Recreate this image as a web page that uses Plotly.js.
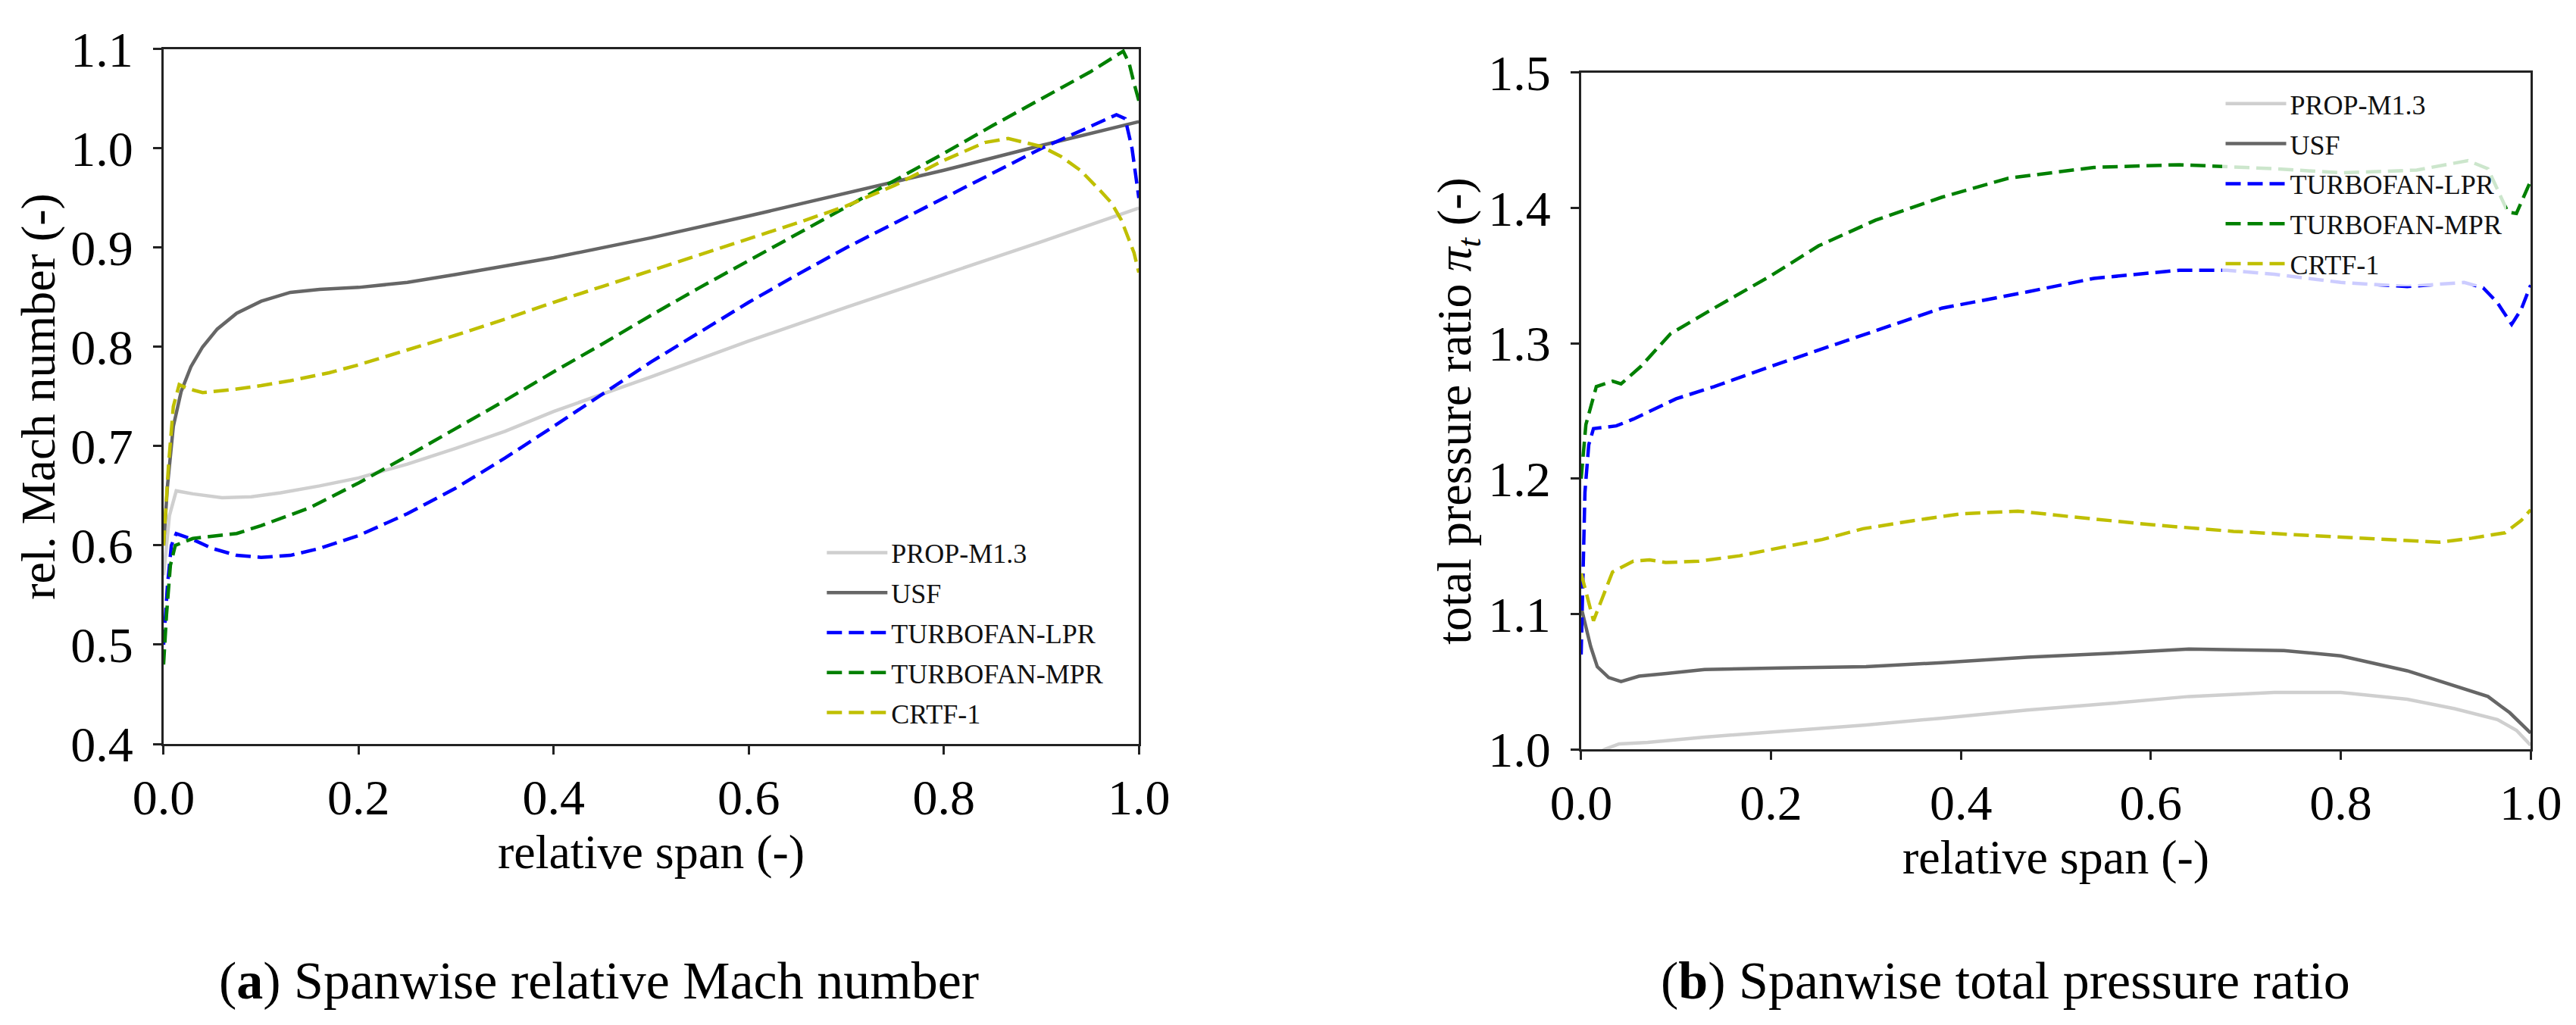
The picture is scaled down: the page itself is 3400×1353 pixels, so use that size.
<!DOCTYPE html>
<html>
<head>
<meta charset="utf-8">
<script src="https://cdn.plot.ly/plotly-3.0.1.min.js"></script>
<style>
    body {margin: 0; background: white;}
    #div_graphe {width: 3400px; height: 1353px;}
</style>
</head>
<body>
<div id="div_graphe"></div>
<script>
let noms = ["PROP-M1.3", "USF", "TURBOFAN-LPR", "TURBOFAN-MPR", "CRTF-1"]

// (a) nombre de Mach relatif
let prop_a_x = [0, 0.006, 0.013, 0.03, 0.06, 0.09, 0.12, 0.16, 0.2, 0.25, 0.3, 0.35, 0.4, 0.5, 0.6, 0.7, 0.8, 0.9, 1.0]
let prop_a_y = [0.57, 0.63, 0.655, 0.652, 0.648, 0.649, 0.653, 0.66, 0.668, 0.682, 0.698, 0.715, 0.735, 0.77, 0.806, 0.84, 0.873, 0.906, 0.94]
let usf_a_x = [0, 0.004, 0.01, 0.018, 0.028, 0.04, 0.055, 0.075, 0.1, 0.13, 0.16, 0.2, 0.25, 0.3, 0.4, 0.5, 0.6, 0.7, 0.8, 0.9, 1.0]
let usf_a_y = [0.6, 0.66, 0.72, 0.755, 0.78, 0.8, 0.818, 0.834, 0.846, 0.855, 0.858, 0.86, 0.865, 0.873, 0.89, 0.91, 0.932, 0.955, 0.978, 1.003, 1.027]
let lpr_a_x = [0, 0.004, 0.008, 0.013, 0.03, 0.05, 0.075, 0.1, 0.13, 0.16, 0.2, 0.25, 0.3, 0.35, 0.4, 0.45, 0.5, 0.55, 0.6, 0.65, 0.7, 0.75, 0.8, 0.85, 0.9, 0.95, 0.977, 0.986, 0.993, 1.0]
let lpr_a_y = [0.5, 0.56, 0.6, 0.612, 0.606, 0.597, 0.59, 0.588, 0.59, 0.597, 0.61, 0.632, 0.658, 0.688, 0.72, 0.752, 0.785, 0.815, 0.845, 0.873, 0.9, 0.925, 0.95, 0.975, 1.0, 1.022, 1.034, 1.03, 1.0, 0.95]
let mpr_a_x = [0, 0.003, 0.007, 0.012, 0.03, 0.05, 0.075, 0.1, 0.15, 0.2, 0.25, 0.3, 0.35, 0.4, 0.45, 0.5, 0.55, 0.6, 0.65, 0.7, 0.75, 0.8, 0.85, 0.9, 0.95, 0.984, 0.99, 0.995, 1.0]
let mpr_a_y = [0.48, 0.53, 0.58, 0.6, 0.607, 0.609, 0.612, 0.62, 0.638, 0.663, 0.69, 0.718, 0.746, 0.775, 0.803, 0.832, 0.86, 0.887, 0.914, 0.941, 0.968, 0.995, 1.023, 1.05, 1.077, 1.098, 1.086, 1.066, 1.048]
let crtf_a_x = [0, 0.005, 0.01, 0.016, 0.025, 0.04, 0.07, 0.1, 0.13, 0.17, 0.2, 0.25, 0.3, 0.35, 0.4, 0.45, 0.5, 0.55, 0.6, 0.65, 0.7, 0.75, 0.8, 0.842, 0.866, 0.9, 0.92, 0.94, 0.959, 0.972, 0.982, 0.995, 1.0]
let crtf_a_y = [0.6, 0.68, 0.74, 0.762, 0.758, 0.754, 0.757, 0.761, 0.766, 0.774, 0.782, 0.797, 0.812, 0.828, 0.845, 0.861, 0.877, 0.893, 0.909, 0.925, 0.942, 0.963, 0.988, 1.006, 1.01, 1.002, 0.992, 0.978, 0.959, 0.945, 0.928, 0.895, 0.875]

// (b) rapport de pression totale
let prop_b_x = [0, 0.025, 0.04, 0.07, 0.13, 0.21, 0.3, 0.38, 0.47, 0.56, 0.64, 0.73, 0.8, 0.87, 0.92, 0.965, 0.985, 1.0]
let prop_b_y = [0.99, 1.0, 1.004, 1.005, 1.009, 1.013, 1.018, 1.023, 1.029, 1.034, 1.039, 1.042, 1.042, 1.037, 1.03, 1.022, 1.014, 1.003]
let usf_b_x = [0, 0.005, 0.01, 0.017, 0.029, 0.042, 0.061, 0.09, 0.13, 0.21, 0.3, 0.38, 0.47, 0.56, 0.64, 0.74, 0.8, 0.87, 0.91, 0.955, 0.978, 1.0]
let usf_b_y = [1.105, 1.09, 1.076, 1.061, 1.053, 1.05, 1.054, 1.056, 1.059, 1.06, 1.061, 1.064, 1.068, 1.071, 1.074, 1.073, 1.069, 1.058, 1.049, 1.039, 1.027, 1.012]
let lpr_b_x = [0, 0.004, 0.008, 0.013, 0.037, 0.055, 0.1, 0.14, 0.2, 0.3, 0.38, 0.47, 0.54, 0.63, 0.68, 0.73, 0.8, 0.87, 0.93, 0.95, 0.965, 0.98, 0.99, 1.0]
let lpr_b_y = [1.07, 1.19, 1.225, 1.237, 1.239, 1.244, 1.259, 1.268, 1.283, 1.307, 1.326, 1.338, 1.348, 1.354, 1.354, 1.351, 1.345, 1.342, 1.345, 1.341, 1.33, 1.314, 1.325, 1.343]
let mpr_b_x = [0, 0.005, 0.016, 0.033, 0.042, 0.063, 0.094, 0.14, 0.2, 0.25, 0.31, 0.38, 0.45, 0.54, 0.63, 0.67, 0.73, 0.8, 0.88, 0.934, 0.955, 0.976, 0.985, 1.0]
let mpr_b_y = [1.2, 1.24, 1.268, 1.272, 1.27, 1.283, 1.307, 1.326, 1.35, 1.372, 1.391, 1.408, 1.422, 1.43, 1.432, 1.431, 1.429, 1.426, 1.428, 1.435, 1.429, 1.397, 1.396, 1.42]
let crtf_b_x = [0, 0.013, 0.033, 0.055, 0.072, 0.089, 0.124, 0.167, 0.21, 0.254, 0.297, 0.35, 0.4, 0.46, 0.514, 0.6, 0.687, 0.774, 0.834, 0.904, 0.938, 0.973, 0.99, 1.0]
let crtf_b_y = [1.13, 1.095, 1.131, 1.139, 1.14, 1.138, 1.139, 1.143, 1.149, 1.155, 1.163, 1.169, 1.174, 1.176, 1.172, 1.166, 1.161, 1.158, 1.156, 1.153, 1.156, 1.16, 1.169, 1.177]

let ticks_x = [0, 0.2, 0.4, 0.6, 0.8, 1.0]
let ticks_a = [0.4, 0.5, 0.6, 0.7, 0.8, 0.9, 1.0, 1.1]
let ticks_b = [1.0, 1.1, 1.2, 1.3, 1.4, 1.5]

let couleurs = ["#cfcfcf", "#666666", "#0000ff", "#008000", "#bfbf00"]
let tirets = ["solid", "solid", "20px,9px", "20px,9px", "20px,9px"]

let police = "Liberation Serif, Times New Roman, serif"

function courbe(x, y, i, axe, legende){
    return {
        x: x, y: y, mode: "lines", type: "scatter", name: noms[i],
        xaxis: "x" + axe, yaxis: "y" + axe, legend: legende,
        legendgroup: legende + i,
        line: {width: 4.5, color: couleurs[i], dash: tirets[i]}
    }
}

let data = [
    courbe(prop_a_x, prop_a_y, 0, "", "legend"),
    courbe(usf_a_x, usf_a_y, 1, "", "legend"),
    courbe(lpr_a_x, lpr_a_y, 2, "", "legend"),
    courbe(mpr_a_x, mpr_a_y, 3, "", "legend"),
    courbe(crtf_a_x, crtf_a_y, 4, "", "legend"),
    courbe(prop_b_x, prop_b_y, 0, "2", "legend2"),
    courbe(usf_b_x, usf_b_y, 1, "2", "legend2"),
    courbe(lpr_b_x, lpr_b_y, 2, "2", "legend2"),
    courbe(mpr_b_x, mpr_b_y, 3, "2", "legend2"),
    courbe(crtf_b_x, crtf_b_y, 4, "2", "legend2")
]

function axe(domaine, range, ticks, titre, standoff, ecart){
    return {
        domain: domaine, range: range, tickvals: ticks,
        ticktext: ticks.map(v => v.toFixed(1)),
        showgrid: false, zeroline: false,
        showline: true, mirror: true, linecolor: "#222222", linewidth: 3,
        ticks: "outside", ticklen: 11, tickwidth: 3, tickcolor: "#222222",
        ticklabelstandoff: ecart,
        tickfont: {family: police, size: 66, color: "black"},
        title: {text: titre, standoff: standoff, font: {family: police, size: 64, color: "black"}},
        automargin: false
    }
}

let legende_style = {
    font: {family: police, size: 36, color: "#111111"},
    bgcolor: "rgba(255,255,255,0.8)",
    borderwidth: 0,
    traceorder: "grouped",
    tracegroupgap: 3,
    itemwidth: 80,
    xanchor: "left", yanchor: "top"
}

let layout = {
    width: 3400, height: 1353,
    margin: {l: 0, r: 0, t: 0, b: 0},
    paper_bgcolor: "white", plot_bgcolor: "white",
    showlegend: true,
    xaxis: axe([0.0635, 0.4421], [0, 1], ticks_x, "relative span (-)", 8, 0),
    yaxis: axe([0.2742, 0.9520], [0.4, 1.1], ticks_a, "rel. Mach number (-)", 0, 13),
    xaxis2: axe([0.6138, 0.9824], [0, 1], ticks_x, "relative span (-)", 8, 0),
    yaxis2: axe([0.2690, 0.9291], [1.0, 1.5], ticks_b, "total pressure ratio <i>π</i><sub><i>t</i></sub> (-)", 0, 13),
    legend: Object.assign({x: 0.3195, y: 0.483}, legende_style),
    legend2: Object.assign({x: 0.8625, y: 0.921}, legende_style),
    annotations: [
        {text: "(<b>a</b>) Spanwise relative Mach number", xref: "paper", yref: "paper",
            x: 0.2324, y: 0.043, xanchor: "center", yanchor: "middle", showarrow: false,
            font: {family: police, size: 70, color: "black"}},
        {text: "(<b>b</b>) Spanwise total pressure ratio", xref: "paper", yref: "paper",
            x: 0.7785, y: 0.043, xanchor: "center", yanchor: "middle", showarrow: false,
            font: {family: police, size: 70, color: "black"}}
    ]
}
layout.xaxis2.anchor = "y2"
layout.yaxis2.anchor = "x2"

Plotly.newPlot("div_graphe", data, layout, {staticPlot: true})
</script>
</body>
</html>
